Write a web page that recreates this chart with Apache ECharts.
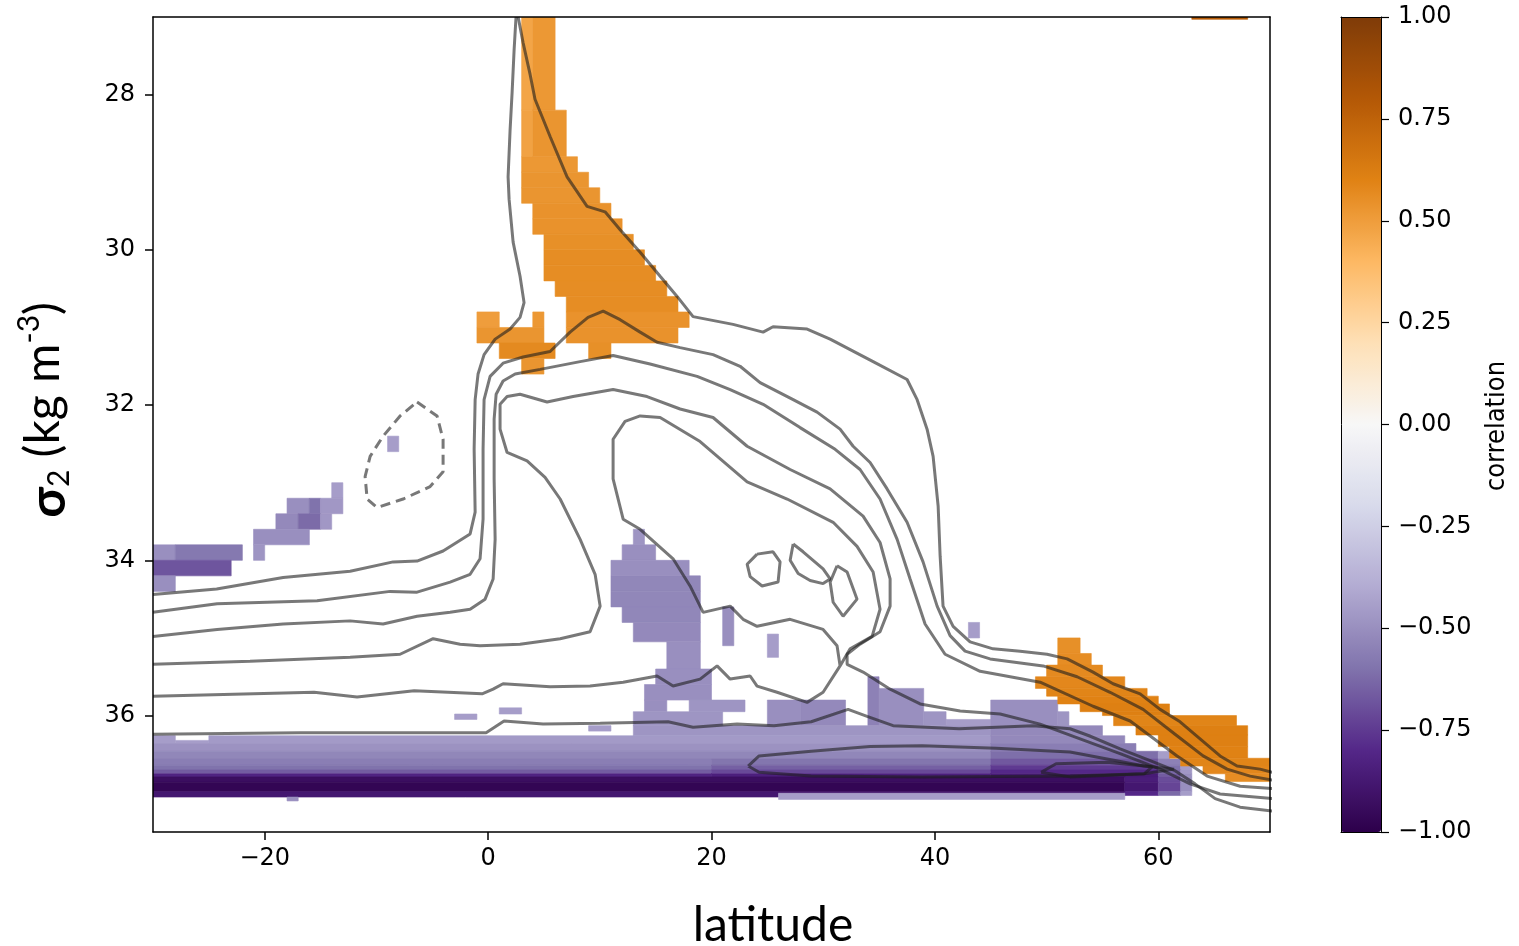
<!DOCTYPE html>
<html><head><meta charset="utf-8">
<script src="https://cdn.jsdelivr.net/npm/echarts@6/dist/echarts.min.js"></script>
<style>html,body{margin:0;padding:0;background:#fff}#c{width:1519px;height:946px}</style>
</head><body><div id="c"></div>
<script>
// ---------- axes / ticks ----------
const latTicks = [-20, 0, 20, 40, 60];
const sigmaTicks = [28, 30, 32, 34, 36];
const corrTicks = [-1, -0.75, -0.5, -0.25, 0, 0.25, 0.5, 0.75, 1];
const puOrR = ['#2d004b','#542788','#8073ac','#b2abd2','#d8daeb','#f7f7f7','#fee0b6','#fdb863','#e08214','#b35806','#7f3b08'];

// ---------- correlation cells: [lat0, lat1, sigma0, sigma1, r] ----------
const orangeTropicsCells = [
  [3,4,26.9,28.2,0.47],[4,6,26.9,28.2,0.52],
  [3,4,28.2,28.8,0.48],[4,7,28.2,28.8,0.53],
  [3,8,28.8,29.0,0.52],[3,9,29.0,29.2,0.53],[3,10,29.2,29.4,0.53],
  [4,11,29.4,29.6,0.54],[4,12,29.6,29.8,0.54],[5,13,29.8,30.0,0.55],
  [5,14,30.0,30.2,0.56],[5,15,30.2,30.4,0.56],[6,16,30.4,30.6,0.56],
  [7,17,30.6,30.8,0.56],
  [-1,1,30.8,31.0,0.50],[4,5,30.8,31.0,0.52],[7,18,30.8,31.0,0.54],
  [-1,5,31.0,31.2,0.53],[7,17,31.0,31.2,0.54],
  [1,6,31.2,31.4,0.57],[9,11,31.2,31.4,0.55],
  [3,5,31.4,31.6,0.53],
  [63,68,26.8,27.03,0.78]
];
const purpleSouthCells = [
  [-9,-8,32.4,32.6,-0.45],
  [-14,-13,33.0,33.2,-0.45],
  [-18,-16,33.2,33.4,-0.50],[-16,-15,33.2,33.4,-0.60],[-15,-13,33.2,33.4,-0.47],
  [-19,-17,33.4,33.6,-0.52],[-17,-15,33.4,33.6,-0.62],[-15,-14,33.4,33.6,-0.47],
  [-21,-16,33.6,33.8,-0.50],
  [-21,-20,33.8,34.0,-0.48],[-30,-28,33.8,34.0,-0.50],[-28,-22,33.8,34.0,-0.58],
  [-30,-23,34.0,34.2,-0.68],
  [-30,-28,34.2,34.4,-0.50]
];
const purpleInteriorCells = [
  [13,14,33.6,33.8,-0.48],[12,15,33.8,34.0,-0.50],[11,18,34.0,34.2,-0.50],
  [11,19,34.2,34.4,-0.53],[11,19,34.4,34.6,-0.53],[12,19,34.6,34.8,-0.53],
  [13,19,34.8,35.05,-0.52],[16,19,35.05,35.4,-0.50],[15,20,35.4,35.6,-0.50],
  [14,20,35.6,35.8,-0.50],[14,16,35.8,35.95,-0.50],[18,23,35.8,35.95,-0.48],
  [13,21,35.95,36.13,-0.48],[21,22,34.6,35.1,-0.50],[25,26,34.95,35.25,-0.45],
  [43,44,34.8,35.0,-0.45],
  [25,28,35.8,36.13,-0.50],[28,32,35.8,36.13,-0.52],[34,35,35.5,36.13,-0.55],
  [35,39,35.65,36.13,-0.50],[39,41,35.95,36.13,-0.48],[41,45,36.05,36.13,-0.45],
  [45,51,35.8,36.13,-0.50],[51,52,35.95,36.13,-0.48],
  [-3,-1,35.98,36.05,-0.45],[1,3,35.9,35.98,-0.45],[9,11,36.13,36.2,-0.45]
];
const purpleDeepCells = [
  [13,45,36.13,36.26,-0.48],[45,55,36.13,36.26,-0.52],
  [-30,-28,36.26,36.36,-0.45],[-28,-25,36.32,36.36,-0.45],[-25,45,36.26,36.36,-0.46],[45,57,36.26,36.36,-0.52],
  [-30,45,36.36,36.46,-0.49],[45,58,36.36,36.46,-0.56],
  [-30,45,36.46,36.56,-0.53],[45,60,36.46,36.56,-0.61],[60,61,36.46,36.56,-0.45],
  [-30,20,36.56,36.64,-0.56],[20,45,36.56,36.64,-0.59],[45,60,36.56,36.64,-0.67],[60,62,36.56,36.64,-0.55],[62,63,36.56,36.64,-0.42],
  [-30,20,36.64,36.70,-0.60],[20,45,36.64,36.70,-0.65],[45,60,36.64,36.70,-0.75],[60,62,36.64,36.70,-0.60],[62,63,36.64,36.70,-0.45],
  [-30,20,36.70,36.75,-0.66],[20,45,36.70,36.75,-0.71],[45,60,36.70,36.75,-0.80],[60,62,36.70,36.75,-0.63],[62,63,36.70,36.75,-0.47],
  [-30,20,36.75,36.79,-0.82],[20,45,36.75,36.79,-0.84],[45,60,36.75,36.79,-0.86],[60,62,36.75,36.79,-0.66],[62,63,36.75,36.79,-0.50],
  [-30,57,36.79,36.86,-0.93],[57,60,36.79,36.86,-0.85],[60,62,36.79,36.86,-0.70],[62,63,36.79,36.86,-0.50],
  [-30,57,36.86,36.98,-0.97],[57,60,36.86,36.98,-0.88],[60,62,36.86,36.98,-0.72],[62,63,36.86,36.98,-0.50],
  [-30,26,36.98,37.05,-0.88],[26,57,36.98,37.0,-0.90],[57,60,36.98,37.03,-0.80],[60,62,36.98,37.03,-0.62],[62,63,36.98,37.03,-0.45],
  [26,57,37.0,37.08,-0.45],[-18,-17,37.05,37.1,-0.50]
];
const orangeNorthCells = [
  [51,53,35.0,35.2,0.55],[51,54,35.2,35.35,0.56],[50,55,35.35,35.5,0.57],
  [49,57,35.5,35.65,0.58],[50,59,35.65,35.75,0.59],[51,60,35.75,35.85,0.60],
  [53,61,35.85,35.95,0.61],[55,61,35.95,36.0,0.61],[56,67,36.0,36.13,0.59],
  [58,68,36.13,36.25,0.61],[60,68,36.25,36.4,0.61],[61,68,36.4,36.55,0.60],
  [62,70,36.55,36.65,0.59],[64,70,36.65,36.75,0.58],[66,70,36.75,36.85,0.56]
];
const heatCells = [].concat(orangeTropicsCells, purpleSouthCells, purpleInteriorCells, purpleDeepCells, orangeNorthCells);

// ---------- overturning contours: [lat, sigma2] ----------
const contourA = [[-30,34.44],[-24.3,34.37],[-18.35,34.22],[-12.35,34.14],[-8.5,34.02],[-6.36,34.01],[-4.03,33.88],[-1.61,33.66],[-1.16,33.38],[-1.25,32.57],[-1.16,31.93],[-0.9,31.6],[-0.36,31.35],[0.63,31.15],[1.97,31.02],[2.86,30.87],[3.22,30.68],[2.86,30.34],[2.24,29.9],[1.88,29.35],[1.79,29.06],[1.97,28.45],[2.15,27.97],[2.33,27.42],[2.5,27.0]];
const contourB = [[2.69,27.0],[3.13,27.33],[3.76,27.74],[4.2,28.06],[5.55,28.54],[7.07,29.06],[8.86,29.44],[10.47,29.51],[11.82,29.74],[13.61,30.03],[15.4,30.34],[16.92,30.6],[18.35,30.86],[21.93,30.96],[24.62,31.06],[25.51,30.99],[28.56,31.02],[30.62,31.15],[34.47,31.44],[37.51,31.67],[38.41,31.93],[39.3,32.31],[39.84,32.66],[40.29,33.3],[40.47,33.95],[40.73,34.59],[41.63,34.85],[43.15,35.05],[45.21,35.14],[47.63,35.17],[50.04,35.21],[51.84,35.27],[54.16,35.44],[55.95,35.59],[58.37,35.72],[60.16,35.92],[61.95,36.08],[63.74,36.3],[65.53,36.52],[67.05,36.65],[69.11,36.69],[70.2,36.73]];
const contourC = [[-30,34.67],[-24.26,34.56],[-15.31,34.52],[-8.77,34.4],[-6.36,34.41],[-3.4,34.28],[-1.61,34.18],[-0.72,33.98],[-0.45,33.47],[-0.45,32.57],[-0.36,31.93],[0.18,31.63],[1.34,31.46],[3.13,31.38],[5.55,31.31],[7.34,31.06],[8.95,30.87],[10.3,30.79],[11.82,30.9],[13.61,31.06],[15.13,31.19],[17.19,31.26],[20.14,31.35],[22.56,31.5],[24.35,31.71],[27.31,31.93],[29.45,32.09],[31.51,32.31],[32.68,32.53],[34.2,32.74],[35.72,33.08],[37.51,33.51],[38.94,34.02],[40.2,34.59],[41.36,34.97],[42.7,35.17],[44.94,35.27],[49.69,35.36],[52.73,35.5],[55.68,35.7],[58.64,35.92],[61.5,36.24],[64.01,36.52],[66.16,36.69],[68.22,36.78],[70.2,36.83]];
const contourD = [[-30,34.98],[-24.26,34.89],[-18.35,34.82],[-12.35,34.78],[-9.4,34.82],[-6.36,34.72],[-3.4,34.67],[-1.61,34.63],[-0.27,34.5],[0.45,34.24],[0.63,33.73],[0.54,32.95],[0.54,32.18],[0.72,31.86],[1.34,31.69],[2.42,31.6],[4.66,31.54],[8.24,31.44],[11.19,31.36],[14.5,31.47],[18.71,31.63],[21.67,31.8],[24.62,31.99],[27.93,32.29],[31.07,32.57],[33.3,32.83],[35.09,33.21],[36.62,33.73],[37.78,34.24],[39.12,34.82],[40.91,35.21],[44.05,35.43],[49.42,35.57],[54.16,35.88],[57.48,36.07],[61.68,36.52],[64.37,36.78],[67.32,36.91],[70.2,36.94]];
const contourE = [[-30,35.34],[-21.31,35.3],[-12.35,35.25],[-7.88,35.21],[-4.92,35.01],[-2.51,35.08],[-0.72,35.1],[2.86,35.08],[6.45,35.01],[9.13,34.92],[10.03,34.59],[9.58,34.18],[8.24,33.73],[6.45,33.21],[5.1,32.93],[3.49,32.72],[1.7,32.61],[1.07,32.31],[1.07,31.99],[1.7,31.89],[2.86,31.86],[5.28,31.96],[7.61,31.89],[11.19,31.8],[14.23,31.89],[17.19,32.05],[20.14,32.16],[23.19,32.53],[27.04,32.83],[30.62,33.08],[33.57,33.43],[35.09,33.77],[35.99,34.24],[35.99,34.59],[35.09,34.92],[33.3,35.08],[32.14,35.21],[32.14,35.34],[33.57,35.44],[35.99,35.66],[38.68,35.85],[42.26,35.94],[45.84,35.98],[49.42,36.11],[53.0,36.3],[56.58,36.49],[60.16,36.69],[62.85,36.88],[65.53,37.01],[70.2,37.07]];
const contourF = [[-30,35.75],[-15.58,35.7],[-11.73,35.76],[-6.62,35.68],[-0.54,35.72],[0.45,35.66],[1.34,35.59],[5.55,35.63],[9.13,35.62],[12.09,35.57],[15.13,35.49],[16.56,35.62],[18.98,35.53],[20.5,35.36],[21.67,35.53],[23.46,35.49],[24.08,35.62],[25.87,35.7],[28.56,35.83],[29.99,35.7],[31.51,35.36],[31.24,35.1],[29.99,34.89],[27.04,34.76],[24.08,34.85],[22.83,34.76],[21.67,34.59],[19.25,34.67],[18.08,34.33],[16.56,33.98],[13.61,33.6],[12.09,33.47],[11.19,32.95],[11.19,32.44],[12.26,32.21],[13.61,32.14],[15.4,32.16],[18.98,32.47],[23.19,32.99],[26.77,33.21],[30.89,33.51],[33.03,33.82],[34.47,34.15],[35.09,34.63],[34.38,34.98],[32.41,35.14],[31.51,35.36]];
const contourG = [[-30,36.24],[-16.83,36.22],[-7.88,36.22],[-0.18,36.22],[1.43,36.07],[4.92,36.11],[10.03,36.1],[16.11,36.08],[18.35,36.15],[22.29,36.11],[25.6,36.13],[28.92,36.08],[32.23,35.92],[33.93,36.01],[36.26,36.13],[42.17,36.17],[48.79,36.13],[52.1,36.17],[53.8,36.26],[56.58,36.43],[59.27,36.58],[61.5,36.71],[63.29,36.88],[65.09,37.07],[67.32,37.18],[70.2,37.23]];
const loopDeep = [[23.28,36.65],[24.26,36.52],[28.92,36.46],[34.2,36.4],[38.85,36.39],[45.48,36.42],[52.1,36.47],[55.42,36.56],[58.73,36.65],[61.41,36.69],[58.73,36.75],[52.1,36.78],[38.85,36.79],[28.92,36.78],[24.26,36.73],[23.28,36.65]];
const loopDeepInner = [[49.51,36.73],[50.85,36.62],[55.42,36.6],[59.45,36.66],[58.73,36.75],[52.1,36.79],[49.51,36.73]];
const loopSmall1 = [[24.08,33.92],[25.51,33.89],[26.14,34.02],[25.96,34.28],[24.53,34.33],[23.46,34.21],[23.19,34.05],[24.08,33.92]];
const loopSmall2 = [[27.31,33.79],[28.2,33.89],[29.99,34.11],[30.62,34.24],[29.99,34.3],[28.83,34.26],[27.76,34.17],[27.04,34.0],[27.31,33.79]];
const loopSmall3 = [[31.24,34.07],[32.14,34.15],[33.03,34.5],[31.78,34.72],[30.89,34.54],[30.62,34.28],[31.24,34.07]];
const loopNegative = [[-6.36,31.96],[-4.57,32.14],[-4.03,32.44],[-4.03,32.86],[-5.19,33.05],[-7.61,33.21],[-9.94,33.32],[-10.83,33.21],[-11.01,32.92],[-10.56,32.66],[-9.4,32.40],[-7.88,32.14],[-6.36,31.96]];

const solidContours = [contourA, contourB, contourC, contourD, contourE, contourF, contourG, loopDeep, loopDeepInner, loopSmall1, loopSmall2, loopSmall3];

const minus = v => (v < 0 ? '\u2212' : '') + Math.abs(v);
const tickFont = {fontSize: 24, fontFamily: 'DejaVu Sans', color: '#000'};
const blackLine = {color: '#000', width: 1.5};
const contourStyle = {color: 'rgba(30,30,30,0.6)', width: 3};

function renderCell(params, api) {
  const a = api.coord([api.value(0), api.value(2)]);
  const b = api.coord([api.value(1), api.value(3)]);
  const c = api.visual('color');
  return {type: 'rect',
    shape: {x: Math.min(a[0], b[0]), y: Math.min(a[1], b[1]), width: Math.abs(b[0] - a[0]), height: Math.abs(b[1] - a[1])},
    style: {fill: c, stroke: c, lineWidth: 0.6}};
}

const lineSeries = solidContours.map(d => ({
  type: 'line', data: d, xAxisIndex: 0, yAxisIndex: 0, showSymbol: false, symbol: 'none',
  clip: true, silent: true, z: 5, lineStyle: contourStyle
}));
lineSeries.push({
  type: 'line', data: loopNegative, xAxisIndex: 0, yAxisIndex: 0, showSymbol: false, symbol: 'none',
  clip: true, silent: true, z: 5,
  lineStyle: Object.assign({}, contourStyle, {type: [10, 6]})
});

const chart = echarts.init(document.getElementById('c'), null, {renderer: 'canvas'});
chart.setOption({
  animation: false,
  backgroundColor: '#fff',
  grid: [
    {left: 153, top: 17, width: 1117, height: 815},
    {left: 1341, top: 17, width: 40, height: 815}
  ],
  xAxis: [
    {gridIndex: 0, type: 'value', min: -30, max: 70, position: 'bottom', z: 10,
     axisLine: {show: true, onZero: false, lineStyle: blackLine},
     axisTick: {show: true, inside: false, length: 8, lineStyle: blackLine, customValues: latTicks},
     axisLabel: Object.assign({show: true, margin: 15, customValues: latTicks, formatter: minus}, tickFont),
     splitLine: {show: false}},
    {gridIndex: 0, type: 'value', min: -30, max: 70, position: 'top', z: 10,
     axisLine: {show: true, onZero: false, lineStyle: blackLine}, axisTick: {show: false}, axisLabel: {show: false}, splitLine: {show: false}},
    {gridIndex: 1, type: 'value', min: 0, max: 1, position: 'bottom', z: 10,
     axisLine: {show: true, onZero: false, lineStyle: {color: '#000', width: 1}}, axisTick: {show: false}, axisLabel: {show: false}, splitLine: {show: false}},
    {gridIndex: 1, type: 'value', min: 0, max: 1, position: 'top', z: 10,
     axisLine: {show: true, onZero: false, lineStyle: {color: '#000', width: 1}}, axisTick: {show: false}, axisLabel: {show: false}, splitLine: {show: false}}
  ],
  yAxis: [
    {gridIndex: 0, type: 'value', min: 27, max: 37.5, inverse: true, position: 'left', z: 10,
     axisLine: {show: true, onZero: false, lineStyle: blackLine},
     axisTick: {show: true, inside: false, length: 8, lineStyle: blackLine, customValues: sigmaTicks},
     axisLabel: Object.assign({show: true, margin: 18, customValues: sigmaTicks}, tickFont),
     splitLine: {show: false}},
    {gridIndex: 0, type: 'value', min: 27, max: 37.5, inverse: true, position: 'right', z: 10,
     axisLine: {show: true, onZero: false, lineStyle: blackLine}, axisTick: {show: false}, axisLabel: {show: false}, splitLine: {show: false}},
    {gridIndex: 1, type: 'value', min: -1, max: 1, interval: 0.25, position: 'right', z: 10,
     axisLine: {show: true, onZero: false, lineStyle: {color: '#000', width: 1}},
     axisTick: {show: true, inside: false, length: 8, lineStyle: {color: '#000', width: 1.2}},
     axisLabel: Object.assign({show: true, margin: 17, formatter: v => (v < 0 ? '\u2212' : '') + Math.abs(v).toFixed(2)}, tickFont),
     splitLine: {show: false}},
    {gridIndex: 1, type: 'value', min: -1, max: 1, position: 'left', z: 10,
     axisLine: {show: true, onZero: false, lineStyle: {color: '#000', width: 1}}, axisTick: {show: false}, axisLabel: {show: false}, splitLine: {show: false}}
  ],
  visualMap: {
    type: 'continuous', min: -1, max: 1, dimension: 4, seriesIndex: 0,
    inRange: {color: puOrR}, show: true, calculable: false, hoverLink: false, realtime: false,
    left: 1341, top: 17, itemWidth: 40, itemHeight: 815, padding: 0, text: null,
    textStyle: {fontSize: 0}
  },
  series: [
    {type: 'custom', renderItem: renderCell, data: heatCells, xAxisIndex: 0, yAxisIndex: 0,
     encode: {x: [0, 1], y: [2, 3]}, clip: true, silent: true, z: 2}
  ].concat(lineSeries),
  graphic: [
    {type: 'text', x: 773, y: 926, silent: true,
     style: {text: 'latitude', fontSize: 48, fontFamily: 'Lato', fill: '#000', align: 'center', verticalAlign: 'middle'}},
    {type: 'text', x: 44, y: 410, rotation: Math.PI / 2, silent: true,
     style: {text: '{b|σ}{sub|2} (kg m{sup|-3})', fontSize: 48, fontFamily: 'Lato', fill: '#000', align: 'center', verticalAlign: 'middle',
       rich: {
         b: {fontSize: 50, fontWeight: 'bold', fontFamily: 'Lato', verticalAlign: 'bottom', lineHeight: 60},
         sub: {fontSize: 30, fontFamily: 'Lato', verticalAlign: 'bottom', lineHeight: 52},
         sup: {fontSize: 30, fontFamily: 'Lato', verticalAlign: 'top', lineHeight: 60}
       }}},
    {type: 'text', x: 1497, y: 426, rotation: Math.PI / 2, silent: true,
     style: {text: 'correlation', fontSize: 27, fontFamily: "'Liberation Sans Narrow', 'DejaVu Sans Condensed', sans-serif", fill: '#000', align: 'center', verticalAlign: 'middle'}}
  ]
});
</script></body></html>
